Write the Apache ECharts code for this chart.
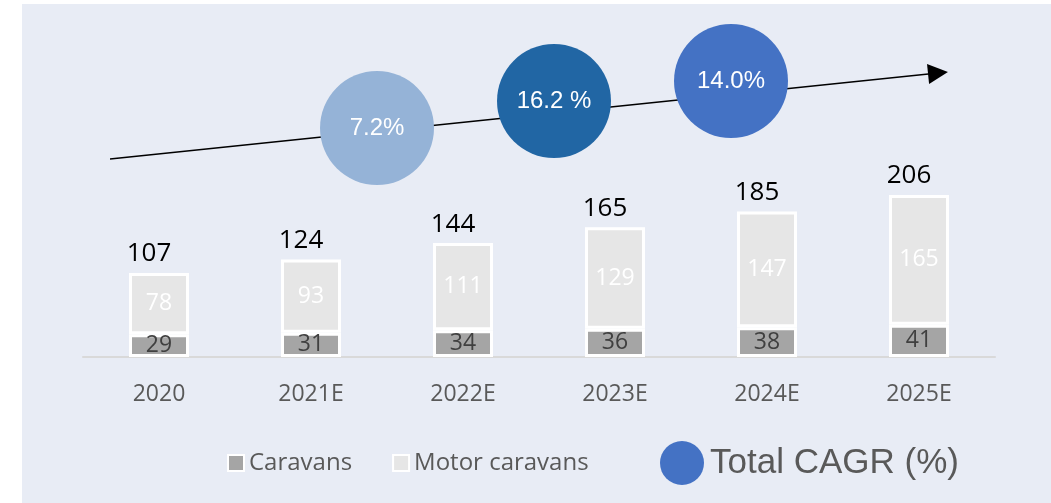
<!DOCTYPE html>
<html>
<head>
<meta charset="utf-8">
<title>Caravans market</title>
<script src="https://cdn.jsdelivr.net/npm/echarts@6/dist/echarts.min.js"></script>
<style>
  html, body { margin: 0; padding: 0; background: #fff; }
  #chart { width: 1051px; height: 503px; }
</style>
</head>
<body>
<div id="chart"></div>
<script>
// data
var years = ["2020", "2021E", "2022E", "2023E", "2024E", "2025E"];
var caravans = [29, 31, 34, 36, 38, 41];
var motorCaravans = [78, 93, 111, 129, 147, 165];
var totals = [107, 124, 144, 165, 185, 206];
var cagrValues = [7.2, 16.2, 14.0];
var cagrLabels = ["7.2%", "16.2 %", "14.0%"];

// layout of the CAGR bubbles / arrow (overlay pixel axes)
var bubbleSpots = [[377, 128], [554, 101], [731, 81]];
var bubbleColors = ["#95b3d7", "#2166a4", "#4472c4"];
var arrowFrom = [110, 159], arrowTo = [938, 73];

var font = "'Open Sans', 'Noto Sans', sans-serif";
var chart = echarts.init(document.getElementById("chart"));

var option = {
  animation: false,
  backgroundColor: "#fff",
  graphic: [{
    type: "rect",
    silent: true,
    z: -10,
    shape: { x: 22, y: 4, width: 1029, height: 499 },
    style: { fill: "#e8ecf5" }
  }],
  legend: [{
    data: ["Caravans", "Motor caravans"],
    left: 222, top: 446,
    itemWidth: 16, itemHeight: 16, itemGap: 40,
    icon: "rect",
    selectedMode: false,
    textStyle: { fontSize: 24, color: "#595959", fontFamily: font }
  }, {
    data: [{ name: "Total CAGR (%)", icon: "circle" }],
    left: 655, top: 436,
    itemWidth: 46, itemHeight: 44,
    selectedMode: false,
    textStyle: { fontSize: 35, color: "#595959", fontFamily: "'Liberation Sans', Arial, sans-serif" }
  }],
  grid: [
    { left: 83, right: 56, top: 160.5, bottom: 146 },
    { left: 0, right: 0, top: 0, bottom: 0 }
  ],
  xAxis: [{
    type: "category",
    gridIndex: 0,
    data: years,
    axisLine: { lineStyle: { color: "#d9d9d9", width: 2 } },
    axisTick: { show: false },
    axisLabel: { color: "#595959", fontSize: 23, fontFamily: font, margin: 26 }
  }, {
    type: "value", gridIndex: 1, min: 0, max: 1051, show: false
  }],
  yAxis: [{
    type: "value", gridIndex: 0, min: 0, max: 250, show: false
  }, {
    type: "value", gridIndex: 1, min: 0, max: 503, inverse: true, show: false
  }],
  series: [{
    name: "Caravans",
    type: "bar",
    stack: "total",
    barWidth: 60,
    data: caravans,
    itemStyle: { color: "#a5a5a5", borderColor: "#fff", borderWidth: 3 },
    label: { show: true, position: "inside", color: "#404040", fontSize: 23, fontFamily: font }
  }, {
    name: "Motor caravans",
    type: "bar",
    stack: "total",
    barWidth: 60,
    data: motorCaravans,
    itemStyle: { color: "#e6e6e6", borderColor: "#fff", borderWidth: 3 },
    label: { show: true, position: "inside", color: "#fff", fontSize: 23, fontFamily: font }
  }, {
    name: "Total",
    type: "bar",
    barWidth: 60,
    barGap: "-100%",
    z: 1,
    silent: true,
    data: totals,
    itemStyle: { color: "rgba(0,0,0,0)" },
    label: {
      show: true, position: "top", distance: 6, offset: [-10, 0],
      color: "#000", fontSize: 26, fontFamily: font
    }
  }, {
    name: "arrow",
    type: "lines",
    coordinateSystem: "cartesian2d",
    xAxisIndex: 1, yAxisIndex: 1,
    silent: true,
    z: 3,
    symbol: ["none", "triangle"],
    symbolSize: [16, 20],
    lineStyle: { color: "#000", width: 1.5, opacity: 1 },
    itemStyle: { color: "#000" },
    data: [{ coords: [arrowFrom, arrowTo] }]
  }, {
    name: "Total CAGR (%)",
    type: "scatter",
    xAxisIndex: 1, yAxisIndex: 1,
    z: 5,
    symbolSize: 114,
    itemStyle: { color: "#4472c4", opacity: 1 },
    data: cagrValues.map(function (v, i) {
      return {
        value: [bubbleSpots[i][0], bubbleSpots[i][1], v],
        itemStyle: { color: bubbleColors[i] },
        label: { formatter: cagrLabels[i] }
      };
    }),
    label: {
      show: true, position: "inside", color: "#fff",
      fontSize: 24, fontFamily: "'Liberation Sans', Arial, sans-serif"
    }
  }]
};

chart.setOption(option);
</script>
</body>
</html>
